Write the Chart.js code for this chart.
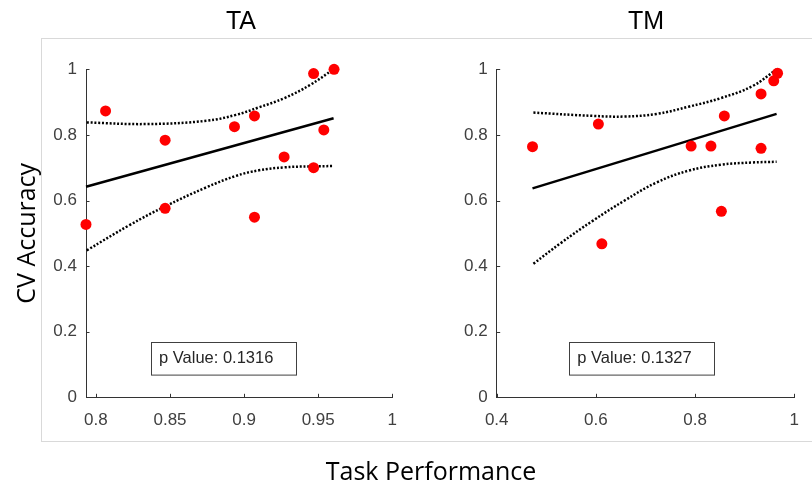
<!DOCTYPE html>
<html><head><meta charset="utf-8">
<script src="https://cdn.jsdelivr.net/npm/chart.js@4/dist/chart.umd.min.js"></script>
<style>
html,body{margin:0;padding:0;background:#fff;width:812px;height:487px;overflow:hidden;position:relative}
#frame{position:absolute;left:41px;top:38px;width:800px;height:404px;border:1px solid #d9d9d9;box-sizing:border-box}
canvas{position:absolute;top:0}
#c1{left:0}
#c2{left:410px}
.title{position:absolute;top:5px;width:200px;text-align:center;font:25px "Liberation Sans",Arial,sans-serif;line-height:30px;color:#000}
#xlabel{position:absolute;left:231px;width:400px;top:455px;text-align:center;font:25px "Open Sans",sans-serif;line-height:30px;color:#000}
</style></head>
<body>
<div id="frame"></div>
<canvas id="c1" width="410" height="487"></canvas>
<canvas id="c2" width="402" height="487"></canvas>
<div class="title" style="left:141px">TA</div>
<div class="title" style="left:546px">TM</div>
<div id="xlabel">Task Performance</div>
<script>
// ---- data ----
const yTicks = [0, 0.2, 0.4, 0.6, 0.8, 1];
const taXTicks = [0.8, 0.85, 0.9, 0.95, 1];
const tmXTicks = [0.4, 0.6, 0.8, 1];
const taXRange = [0.7933, 1];
const tmXRange = [0.4, 1];

const taPerf = [0.7933, 0.8065, 0.8467, 0.8467, 0.8935, 0.907, 0.907, 0.927, 0.9469, 0.9469, 0.9538, 0.9607];
const taAcc  = [0.527, 0.873, 0.784, 0.576, 0.825, 0.858, 0.549, 0.733, 0.987, 0.700, 0.815, 1.0];
const taFitX = [0.7933, 0.9604];
const taFitY = [0.642, 0.851];
const taUpX = [0.7938, 0.8345, 0.8745, 0.8945, 0.910, 0.9271, 0.9444, 0.9604];
const taUpY = [0.838, 0.833, 0.843, 0.861, 0.884, 0.912, 0.952, 1.0];
const taLoX = [0.7938, 0.8227, 0.8467, 0.8745, 0.8945, 0.910, 0.9271, 0.9444, 0.9604];
const taLoY = [0.448, 0.525, 0.582, 0.640, 0.675, 0.692, 0.701, 0.704, 0.705];
const taPValue = "p Value: 0.1316";

const tmPerf = [0.4722, 0.605, 0.612, 0.792, 0.832, 0.853, 0.859, 0.933, 0.933, 0.9586, 0.9663];
const tmAcc  = [0.764, 0.833, 0.468, 0.766, 0.766, 0.567, 0.858, 0.925, 0.759, 0.965, 0.988];
const tmFitX = [0.4722, 0.9644];
const tmFitY = [0.637, 0.864];
const tmUpX = [0.474, 0.5935, 0.658, 0.7225, 0.787, 0.8515, 0.916, 0.9644];
const tmUpY = [0.868, 0.858, 0.856, 0.864, 0.886, 0.912, 0.949, 1.0];
const tmLoX = [0.474, 0.529, 0.5935, 0.658, 0.7225, 0.787, 0.8515, 0.916, 0.9644];
const tmLoY = [0.407, 0.470, 0.538, 0.600, 0.655, 0.691, 0.709, 0.716, 0.718];
const tmPValue = "p Value: 0.1327";

// ---- helpers ----
const pts = (xs, ys) => xs.map((x, i) => ({x: x, y: ys[i]}));
const fmt = v => String(+(+v).toFixed(2));

const decor = {
  id: 'decor',
  afterDraw(chart, args, o) {
    const ctx = chart.ctx, ca = chart.chartArea;
    const xs = chart.scales.x, ys = chart.scales.y;
    ctx.save();
    ctx.strokeStyle = '#333';
    ctx.lineWidth = 1;
    ctx.beginPath();
    xs.ticks.forEach(t => {
      const p = Math.round(xs.getPixelForValue(t.value)) + 0.5;
      ctx.moveTo(p, ca.bottom); ctx.lineTo(p, ca.bottom - 3.5);
    });
    ys.ticks.forEach(t => {
      const p = Math.round(ys.getPixelForValue(t.value)) + 0.5;
      ctx.moveTo(ca.left, p); ctx.lineTo(ca.left + 3.5, p);
    });
    ctx.stroke();
    // p-value box
    const b = o.box;
    ctx.fillStyle = '#fff';
    ctx.fillRect(b.x, b.y, b.w, b.h);
    ctx.strokeStyle = '#404040';
    ctx.strokeRect(Math.round(b.x) + 0.5, Math.round(b.y) + 0.5, b.w, b.h);
    ctx.fillStyle = '#262626';
    ctx.font = '16.5px "Liberation Sans", Arial, sans-serif';
    ctx.textBaseline = 'middle';
    ctx.textAlign = 'left';
    ctx.fillText(o.text, b.x + 8, b.y + b.h / 2 + 0.5);
    ctx.restore();
  }
};

function makeChart(id, d) {
  const ci = {showLine: true, borderColor: '#000', borderWidth: 2.5, borderDash: [2, 1.8], tension: 0.4, pointRadius: 0, clip: false};
  return new Chart(document.getElementById(id), {
    type: 'scatter',
    data: {
      datasets: [
        {data: pts(d.px, d.py), backgroundColor: '#ff0000', borderWidth: 0, pointRadius: 5.5, showLine: false, clip: false},
        {data: pts(d.fx, d.fy), showLine: true, borderColor: '#000', borderWidth: 2.5, pointRadius: 0, clip: false},
        Object.assign({data: pts(d.ux, d.uy)}, ci),
        Object.assign({data: pts(d.lx, d.ly)}, ci)
      ]
    },
    options: {
      responsive: false, animation: false, devicePixelRatio: 1,
      layout: {padding: {left: 0, right: d.padRight, top: 69.3, bottom: 0}},
      plugins: {legend: {display: false}, tooltip: {enabled: false}, title: {display: false},
        decor: {box: d.box, text: d.ptext}},
      scales: {
        x: {
          type: 'linear', min: d.xr[0], max: d.xr[1],
          afterBuildTicks: s => { s.ticks = d.xt.map(v => ({value: v})); },
          afterFit: s => { s.height = 89.7; },
          grid: {display: false, drawTicks: false},
          border: {display: true, color: '#333', width: 1},
          ticks: {autoSkip: false, maxRotation: 0, padding: 13, color: '#404040',
            font: {family: '"Liberation Sans", Arial, sans-serif', size: 17}, callback: v => fmt(v)}
        },
        y: {
          type: 'linear', min: 0, max: 1,
          afterBuildTicks: s => { s.ticks = yTicks.map(v => ({value: v})); },
          afterFit: s => { s.width = d.yw; },
          grid: {display: false, drawTicks: false},
          border: {display: true, color: '#333', width: 1},
          ticks: {autoSkip: false, padding: 9, color: '#404040',
            font: {family: '"Liberation Sans", Arial, sans-serif', size: 17}, callback: v => fmt(v)},
          title: d.ytitle ? {display: true, text: d.ytitle, color: '#000',
            font: {family: '"Open Sans", sans-serif', size: 25}, padding: {top: 13, bottom: 0}} : {display: false}
        }
      }
    },
    plugins: [decor]
  });
}

makeChart('c1', {px: taPerf, py: taAcc, fx: taFitX, fy: taFitY, ux: taUpX, uy: taUpY, lx: taLoX, ly: taLoY,
  xr: taXRange, xt: taXTicks, yw: 86, padRight: 13, ytitle: 'CV Accuracy',
  box: {x: 151, y: 341.7, w: 145, h: 32.6}, ptext: taPValue});
makeChart('c2', {px: tmPerf, py: tmAcc, fx: tmFitX, fy: tmFitY, ux: tmUpX, uy: tmUpY, lx: tmLoX, ly: tmLoY,
  xr: tmXRange, xt: tmXTicks, yw: 86.7, padRight: 6, ytitle: null,
  box: {x: 159.3, y: 341.7, w: 145, h: 32.6}, ptext: tmPValue});
</script>
</body></html>
